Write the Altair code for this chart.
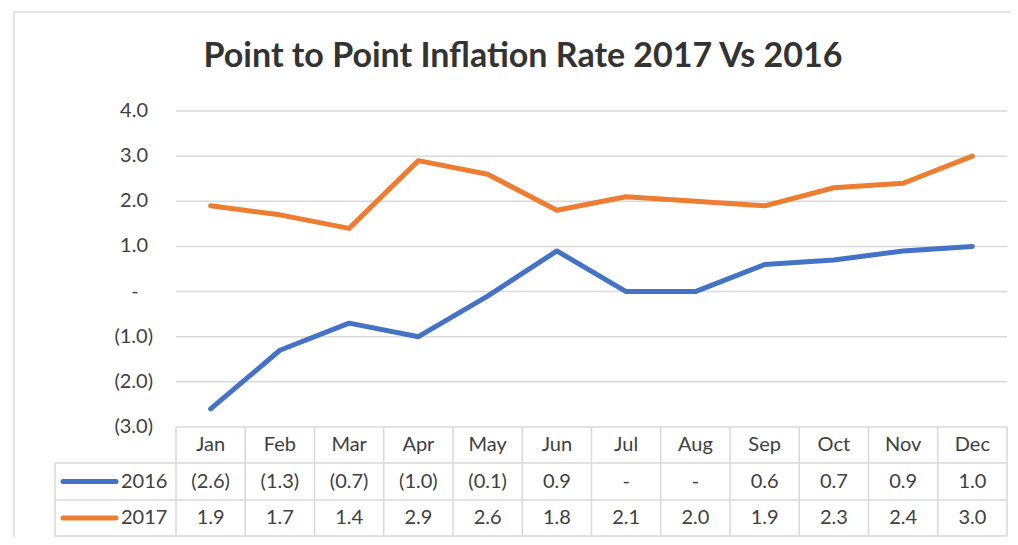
import altair as alt
import pandas as pd

# ---------------- data ----------------
months = ["Jan", "Feb", "Mar", "Apr", "May", "Jun", "Jul", "Aug", "Sep", "Oct", "Nov", "Dec"]
v2016 = [-2.6, -1.3, -0.7, -1.0, -0.1, 0.9, 0.0, 0.0, 0.6, 0.7, 0.9, 1.0]
v2017 = [1.9, 1.7, 1.4, 2.9, 2.6, 1.8, 2.1, 2.0, 1.9, 2.3, 2.4, 3.0]
series_names = ["2016", "2017"]
series_colors = ["#4472C4", "#ED7D31"]
y_ticks = [-3, -2, -1, 0, 1, 2, 3, 4]
title_text = "Point to Point Inflation Rate 2017 Vs 2016"


def fmt(v):
    if abs(v) < 1e-9:
        return "-"
    if v < 0:
        return f"({abs(v):.1f})"
    return f"{v:.1f}"


long_df = pd.DataFrame(
    {
        "month": months * 2,
        "series": [series_names[0]] * 12 + [series_names[1]] * 12,
        "value": v2016 + v2017,
    }
)
long_df["label"] = long_df["value"].map(fmt)
tick_df = pd.DataFrame({"v": y_ticks})
tick_df["label"] = tick_df["v"].map(fmt)
month_df = pd.DataFrame({"month": months})
one = pd.DataFrame({"a": [0]})

# ---------------- layout ----------------
W, H = 831, 316
PAD = {"left": 168, "top": 103, "right": 3, "bottom": 110}
FONT = "Lato"
TXT = "#404040"
GRID = "#d9d9d9"

xscale = alt.Scale(type="point", domain=months, padding=0.5)
yscale = alt.Scale(domain=[-3, 4], nice=False, zero=False)

HDR_TOP, R1_TOP, R2_TOP, TBL_BOT = 316, 352, 389, 425
LEG_LEFT = -121

layers = []

# chart border (left + top)
layers.append(
    alt.Chart(one).mark_rule(color=GRID, strokeWidth=1.5).encode(
        x=alt.value(-162), y=alt.value(-99), y2=alt.value(440)
    )
)
layers.append(
    alt.Chart(one).mark_rule(color=GRID, strokeWidth=1.5).encode(
        x=alt.value(-162), x2=alt.value(860), y=alt.value(-99)
    )
)

# gridlines
layers.append(
    alt.Chart(tick_df[tick_df["v"] > -3]).mark_rule(color=GRID, strokeWidth=1.5).encode(
        y=alt.Y("v:Q", scale=yscale, axis=None), x=alt.value(0), x2=alt.value(W)
    )
)

# y labels
pos = tick_df[tick_df["v"] > 0]
neg = tick_df[tick_df["v"] < 0]
zer = tick_df[tick_df["v"] == 0]
for sub, xv, al in [(pos, -28, "right"), (neg, -23, "right"), (zer, -41, "center")]:
    layers.append(
        alt.Chart(sub).mark_text(font=FONT, fontSize=20, color=TXT, align=al, baseline="middle").encode(
            y=alt.Y("v:Q", scale=yscale, axis=None), x=alt.value(xv), text="label:N"
        )
    )

# lines
layers.append(
    alt.Chart(long_df).mark_line(strokeWidth=5, strokeCap="round", strokeJoin="round").encode(
        x=alt.X("month:N", scale=xscale, axis=None, sort=months),
        y=alt.Y("value:Q", scale=yscale, axis=None),
        color=alt.Color("series:N", scale=alt.Scale(domain=series_names, range=series_colors), legend=None),
    )
)

# title
layers.append(
    alt.Chart(one).mark_text(
        text=title_text, font=FONT, fontSize=34, fontWeight="bold", color="#333333",
        align="center", baseline="alphabetic",
    ).encode(x=alt.value(347), y=alt.value(-44))
)

# ---------------- data table ----------------
def hrule(x1, x2, y):
    return alt.Chart(one).mark_rule(color=GRID, strokeWidth=1.5).encode(
        x=alt.value(x1), x2=alt.value(x2), y=alt.value(y)
    )


layers.append(hrule(0, W, HDR_TOP))
layers.append(hrule(LEG_LEFT, W, R1_TOP))
layers.append(hrule(LEG_LEFT, W, R2_TOP))
layers.append(hrule(LEG_LEFT, W, TBL_BOT))

layers.append(
    alt.Chart(month_df).mark_rule(color=GRID, strokeWidth=1.5, xOffset=-W / 24).encode(
        x=alt.X("month:N", scale=xscale, axis=None, sort=months),
        y=alt.value(HDR_TOP), y2=alt.value(TBL_BOT),
    )
)
layers.append(
    alt.Chart(one).mark_rule(color=GRID, strokeWidth=1.5).encode(
        x=alt.value(W), y=alt.value(HDR_TOP), y2=alt.value(TBL_BOT)
    )
)
layers.append(
    alt.Chart(one).mark_rule(color=GRID, strokeWidth=1.5).encode(
        x=alt.value(LEG_LEFT), y=alt.value(R1_TOP), y2=alt.value(TBL_BOT)
    )
)

# header months
layers.append(
    alt.Chart(month_df).mark_text(font=FONT, fontSize=20, color=TXT, align="center", baseline="middle").encode(
        x=alt.X("month:N", scale=xscale, axis=None, sort=months),
        y=alt.value((HDR_TOP + R1_TOP) / 2),
        text="month:N",
    )
)

rows = [(series_names[0], (R1_TOP + R2_TOP) / 2), (series_names[1], (R2_TOP + TBL_BOT) / 2)]
for (name, yc), col in zip(rows, series_colors):
    layers.append(
        alt.Chart(long_df[long_df["series"] == name]).mark_text(
            font=FONT, fontSize=20, color=TXT, align="center", baseline="middle"
        ).encode(
            x=alt.X("month:N", scale=xscale, axis=None, sort=months),
            y=alt.value(yc),
            text="label:N",
        )
    )
    # legend key
    layers.append(
        alt.Chart(one).mark_rule(color=col, strokeWidth=5, strokeCap="round").encode(
            x=alt.value(-113), x2=alt.value(-60), y=alt.value(yc)
        )
    )
    layers.append(
        alt.Chart(one).mark_text(
            text=name, font=FONT, fontSize=20, color=TXT, align="left", baseline="middle"
        ).encode(x=alt.value(-55), y=alt.value(yc))
    )

chart = (
    alt.layer(*layers)
    .properties(width=W, height=H, padding=PAD, autosize=alt.AutoSizeParams(type="none"), background="white")
    .configure_view(stroke=None)
)

chart.save("out.html", embed_options={"renderer": "svg", "actions": False})
